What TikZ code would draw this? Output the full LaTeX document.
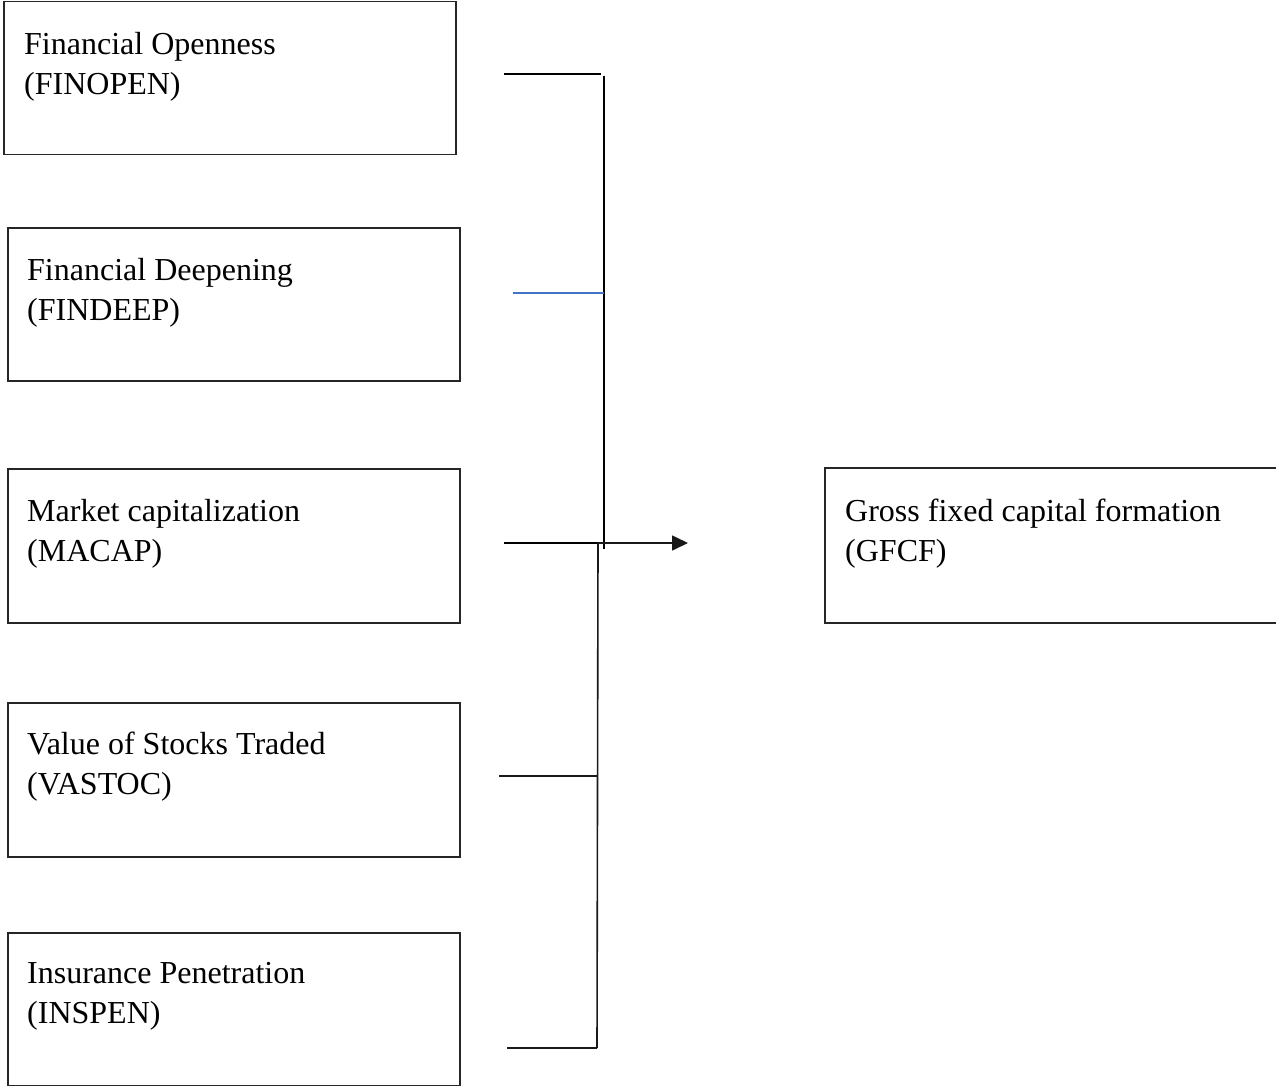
\documentclass[tikz,border=0pt]{standalone}
\usepackage{fontspec}
\setmainfont{Liberation Serif}
\usetikzlibrary{arrows.meta}
\definecolor{linkblue}{HTML}{4472C4}
\begin{document}
\begin{tikzpicture}[x=1pt,y=-1pt,
  box/.style={draw=black!85,line width=1.5pt,rectangle,inner sep=0pt,anchor=north west},
  lbl/.style={anchor=north west,inner sep=0pt,align=left,font=\fontsize{32}{40}\selectfont},
  conn/.style={draw=black,line width=2pt},
  thinconn/.style={draw=black!90,line width=1.6pt}]
\useasboundingbox (0,0) rectangle (1276,1086);
% boxes
\node[box,minimum width=452pt,minimum height=153pt] (b1) at (3,1) {};
\node[box,minimum width=452pt,minimum height=153pt] (b2) at (7,227) {};
\node[box,minimum width=452pt,minimum height=154pt] (b3) at (7,468) {};
\node[box,minimum width=452pt,minimum height=154pt] (b4) at (7,702) {};
\node[box,minimum width=452pt,minimum height=153pt] (b5) at (7,932) {};
\node[box,minimum width=460pt,minimum height=155pt] (g) at (824,467) {};
% labels
\node[lbl] (t1) at (24,32) {Financial Openness\\(FINOPEN)};
\node[lbl] (t2) at (27,258) {Financial Deepening\\(FINDEEP)};
\node[lbl] (t3) at (27,499) {Market capitalization\\(MACAP)};
\node[lbl] (t4) at (27,732) {Value of Stocks Traded\\(VASTOC)};
\node[lbl] (t5) at (27,962) {Insurance Penetration\\(INSPEN)};
\node[lbl] (tg) at (845,499) {Gross fixed capital formation\\(GFCF)};
% connector points
\coordinate (s1) at (504,74);
\coordinate (c1) at (601,74);
\coordinate (v1t) at (603.5,76);
\coordinate (v1b) at (603.5,549);
\coordinate (s2) at (513,293);
\coordinate (c2) at (603.5,293);
\coordinate (s3) at (504,543);
\coordinate (c3) at (598,543);
\coordinate (arr) at (688,543);
\coordinate (s4) at (499,776);
\coordinate (c4) at (597,776);
\coordinate (s5) at (507,1048);
\coordinate (c5) at (597,1048);
% connectors
\draw[conn] (s1) -- (c1);
\draw[conn] (v1t) -- (v1b);
\draw[draw=linkblue,line width=1.6pt] (s2) -- (c2);
\draw[conn] (s3) -- (c3);
\draw[thinconn] (c3) -- (c5);
\draw[thinconn,-{Triangle[length=16pt,width=15pt]}] (c3) -- (arr);
\draw[thinconn] (s4) -- (c4);
\draw[thinconn] (s5) -- (c5);
\end{tikzpicture}
\end{document}
